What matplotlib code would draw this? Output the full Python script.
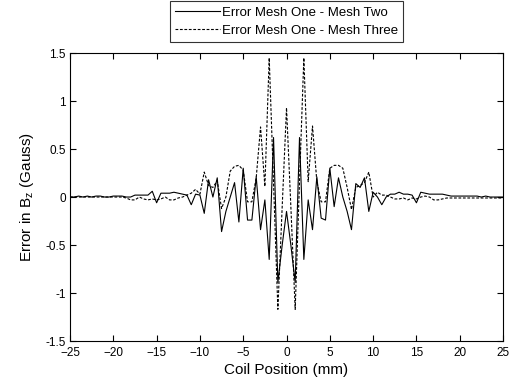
import numpy as np
import matplotlib
matplotlib.use("Agg")
import matplotlib.pyplot as plt

plt.rcParams['font.family'] = ['Liberation Sans', 'DejaVu Sans']

# coil positions, 0.5 mm steps
pos = np.arange(-25, 25.01, 0.5)

# error mesh one - mesh two (solid)
err_two = [
    0.00, 0.00, 0.01, 0.00, 0.01, 0.00, 0.01, 0.01, 0.00, 0.00,      # -25 .. -20.5
    0.01, 0.01, 0.01, 0.00, 0.00, 0.02, 0.02, 0.02, 0.02, 0.06,      # -20 .. -15.5
    -0.06, 0.04, 0.04, 0.04, 0.05, 0.04, 0.03, 0.02, -0.08, 0.03,    # -15 .. -10.5
    0.02, -0.17, 0.18, 0.00, 0.20, -0.36, -0.15, 0.00, 0.15, -0.26,  # -10 .. -5.5
    0.30, -0.24, -0.24, 0.21, -0.34, -0.03, -0.65, 0.62, -0.89, -0.50,  # -5 .. -0.5
    -0.15, -0.50, -0.89, 0.62, -0.65, -0.03, -0.34, 0.21, -0.22, -0.24,  # 0 .. 4.5
    0.30, -0.10, 0.20, 0.00, -0.15, -0.34, 0.14, 0.10, 0.20, -0.15,  # 5 .. 9.5
    0.05, 0.00, -0.08, 0.00, 0.03, 0.03, 0.05, 0.03, 0.03, 0.02,     # 10 .. 14.5
    -0.06, 0.05, 0.04, 0.03, 0.03, 0.03, 0.03, 0.02, 0.01, 0.01,     # 15 .. 19.5
    0.01, 0.01, 0.01, 0.01, 0.01, 0.00, 0.01, 0.00, 0.00, 0.00,      # 20 .. 24.5
    0.00,
]

# error mesh one - mesh three (dashed)
err_three = [
    0.00, 0.00, 0.00, 0.00, 0.00, 0.00, 0.00, 0.00, 0.00, 0.00,
    0.00, 0.00, 0.00, -0.01, -0.03, -0.03, 0.00, -0.02, -0.03, -0.02,
    -0.03, -0.02, 0.00, -0.03, -0.03, -0.01, 0.00, 0.02, 0.04, 0.08,
    0.03, 0.26, 0.12, 0.10, 0.17, -0.12, 0.00, 0.27, 0.32, 0.33,
    0.28, -0.05, -0.05, 0.20, 0.73, 0.11, 1.45, 0.15, -1.17, -0.10,
    0.93, -0.10, -1.17, 0.16, 1.45, 0.16, 0.74, 0.16, -0.05, -0.05,
    0.30, 0.33, 0.33, 0.30, 0.10, -0.13, 0.10, 0.12, 0.15, 0.26,
    0.00, 0.05, 0.02, 0.02, 0.00, -0.02, -0.02, -0.01, -0.03, -0.01,
    -0.02, 0.00, 0.01, 0.00, -0.03, -0.03, -0.02, -0.01, -0.01, -0.01,
    -0.01, -0.01, -0.01, -0.01, -0.01, -0.01, -0.01, -0.01, -0.01, -0.01,
    -0.01,
]

fig = plt.figure(figsize=(5.24, 3.9), dpi=100)
ax = fig.add_axes([0.1336, 0.1256, 0.8264, 0.7384])

l1, = ax.plot(pos, err_two, color='black', linewidth=0.8, linestyle='-')
l2, = ax.plot(pos, err_three, color='black', linewidth=0.8, linestyle=(0, (2.5, 1.5)))

ax.set_xlim(-25, 25)
ax.set_ylim(-1.5, 1.5)
ax.set_xticks(np.arange(-25, 26, 5))
ax.set_yticks([-1.5, -1, -0.5, 0, 0.5, 1, 1.5])
ax.set_yticklabels(['-1.5', '-1', '-0.5', '0', '0.5', '1', '1.5'])
ax.tick_params(direction='in', top=True, right=True, labelsize=8.5, length=4)
ax.tick_params(axis='x', pad=4)
ax.tick_params(axis='y', pad=3)
for s in ax.spines.values():
    s.set_linewidth(0.8)

ax.set_xlabel('Coil Position (mm)', fontsize=11, labelpad=3)
ax.set_ylabel('Error in B$_\\mathregular{z}$ (Gauss)', fontsize=11, labelpad=7)

leg = fig.legend([l1, l2], ['Error Mesh One - Mesh Two', 'Error Mesh One - Mesh Three'],
                 loc='upper center', bbox_to_anchor=(0.5468, 0.997),
                 fontsize=9.5, frameon=True, fancybox=False, handlelength=3.4,
                 borderpad=0.4, labelspacing=0.45, handletextpad=0.15,
                 borderaxespad=0)
leg.get_frame().set_edgecolor('black')
leg.get_frame().set_linewidth(0.8)

fig.savefig('out.png', dpi=100)
